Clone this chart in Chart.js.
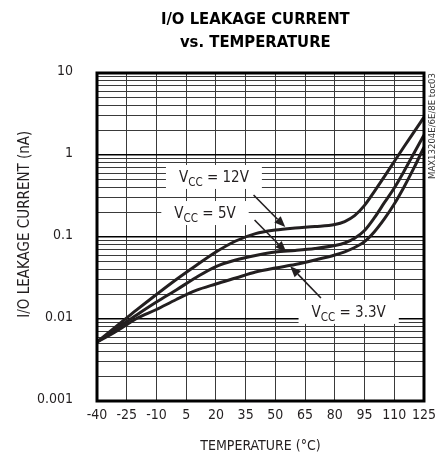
<!DOCTYPE html>
<html><head><meta charset="utf-8">
<script src="https://cdn.jsdelivr.net/npm/chart.js@4.4.0/dist/chart.umd.min.js"></script>
<style>html,body{margin:0;padding:0;background:#fff;}</style>
</head><body>
<canvas id="c" width="442" height="462"></canvas>
<script>
// ---- data ----
const temperatures = [-40, -30, -20, -10, 0, 10, 20, 30, 40, 50, 60, 70, 80, 85, 90, 95, 100, 105, 110, 115, 120, 125];
const leak12V = [0.00525, 0.00822, 0.0129, 0.0199, 0.0303, 0.0449, 0.0656, 0.0894, 0.110, 0.1217, 0.1288, 0.134,
                 0.142, 0.1545, 0.182, 0.243, 0.360, 0.545, 0.834, 1.27, 1.91, 2.90];
const leak5V  = [0.00525, 0.00766, 0.0112, 0.0161, 0.0226, 0.0321, 0.0436, 0.0524, 0.0595, 0.0656, 0.0685, 0.0724,
                 0.0787, 0.0845, 0.0965, 0.120, 0.172, 0.262, 0.396, 0.638, 1.06, 1.75];
const leak3V3 = [0.00525, 0.00714, 0.01014, 0.01306, 0.0173, 0.0223, 0.0267, 0.0316, 0.0374, 0.0419, 0.0462, 0.0524,
                 0.0603, 0.0660, 0.0745, 0.088, 0.116, 0.166, 0.252, 0.410, 0.70, 1.25];
const xTickValues = [-40, -25, -10, 5, 20, 35, 50, 65, 80, 95, 110, 125];
const yDecades = [0.001, 0.01, 0.1, 1, 10];
const yTickLabels = ['0.001', '0.01', '0.1', '1', '10'];
const seriesLabels = ['VCC = 12V', 'VCC = 5V', 'VCC = 3.3V'];
const titleLines = ['I/O LEAKAGE CURRENT', 'vs. TEMPERATURE'];
const xTitle = 'TEMPERATURE (°C)';
const yTitle = 'I/O LEAKAGE CURRENT (nA)';
const sideNote = 'MAX13204E/6E/8E toc03';

// ---- styling / annotation placement (data units) ----
const FONT = "'DejaVu Sans Condensed','Liberation Sans Narrow','Arial Narrow',sans-serif";
const INK = '#231f20';
const callouts = [
  { rest: ' = 12V', at: [19, 0.54],    from: [39, 0.325],   to: [55, 0.132] },
  { rest: ' = 5V',  at: [14.5, 0.196], from: [39.5, 0.161], to: [55.5, 0.0656] },
  { rest: ' = 3.3V',at: [87, 0.0122],  from: [73, 0.018],   to: [57.5, 0.044] }
];

function isDecade(v) { return yDecades.some(d => Math.abs(v / d - 1) < 1e-6); }

function measureCallout(ctx, c) {
  ctx.font = `15px ${FONT}`;
  const w1 = ctx.measureText('V').width;
  const w3 = ctx.measureText(c.rest).width;
  ctx.font = `11.5px ${FONT}`;
  const w2 = ctx.measureText('CC').width;
  return { w1, w2, w3, total: w1 + w2 + w3 };
}

const decor = {
  id: 'decor',
  beforeDatasetsDraw(chart) {
    const { ctx, scales: { x, y } } = chart;
    ctx.save();
    ctx.fillStyle = '#fff';
    callouts.forEach(c => {
      const m = measureCallout(ctx, c);
      const cx = x.getPixelForValue(c.at[0]), cy = y.getPixelForValue(c.at[1]);
      ctx.fillRect(cx - m.total / 2 - 13, cy - 12, m.total + 26, 24);
    });
    ctx.restore();
  },
  afterDatasetsDraw(chart) {
    const { ctx, scales: { x, y } } = chart;
    ctx.save();
    ctx.fillStyle = INK; ctx.strokeStyle = INK;
    callouts.forEach(c => {
      const m = measureCallout(ctx, c);
      const cx = x.getPixelForValue(c.at[0]), cy = y.getPixelForValue(c.at[1]);
      const x0 = cx - m.total / 2, base = cy + 5;
      ctx.textBaseline = 'alphabetic'; ctx.textAlign = 'left';
      ctx.font = `15px ${FONT}`; ctx.fillText('V', x0, base);
      ctx.font = `11.5px ${FONT}`; ctx.fillText('CC', x0 + m.w1, base + 4);
      ctx.font = `15px ${FONT}`; ctx.fillText(c.rest, x0 + m.w1 + m.w2, base);
      // arrow
      const fx = x.getPixelForValue(c.from[0]), fy = y.getPixelForValue(c.from[1]);
      const tx = x.getPixelForValue(c.to[0]), ty = y.getPixelForValue(c.to[1]);
      const ang = Math.atan2(ty - fy, tx - fx), L = 11, W = 4.5;
      const bx = tx - L * Math.cos(ang), by = ty - L * Math.sin(ang);
      ctx.lineWidth = 1.6;
      ctx.beginPath(); ctx.moveTo(fx, fy); ctx.lineTo(bx, by); ctx.stroke();
      ctx.beginPath();
      ctx.moveTo(tx, ty);
      ctx.lineTo(bx + W * Math.sin(ang), by - W * Math.cos(ang));
      ctx.lineTo(bx - W * Math.sin(ang), by + W * Math.cos(ang));
      ctx.closePath(); ctx.fill();
    });
    ctx.restore();
  },
  afterDraw(chart) {
    const { ctx, chartArea: a } = chart;
    ctx.save();
    ctx.strokeStyle = '#000'; ctx.lineWidth = 3;
    ctx.strokeRect(a.left, a.top, a.right - a.left, a.bottom - a.top);
    ctx.translate(a.right + 9, a.top + 53);
    ctx.rotate(-Math.PI / 2);
    ctx.font = `9.5px ${FONT}`; ctx.fillStyle = '#333';
    ctx.textAlign = 'center'; ctx.textBaseline = 'middle';
    ctx.fillText(sideNote, 0, 0);
    ctx.restore();
  }
};

const mkDataset = (label, data) => ({
  label, data, borderColor: INK, borderWidth: 3, pointRadius: 0,
  cubicInterpolationMode: 'monotone', fill: false
});

new Chart(document.getElementById('c'), {
  type: 'line',
  data: {
    labels: temperatures,
    datasets: [
      mkDataset(seriesLabels[0], temperatures.map((t, i) => ({ x: t, y: leak12V[i] }))),
      mkDataset(seriesLabels[1], temperatures.map((t, i) => ({ x: t, y: leak5V[i] }))),
      mkDataset(seriesLabels[2], temperatures.map((t, i) => ({ x: t, y: leak3V3[i] })))
    ]
  },
  options: {
    responsive: false, animation: false, devicePixelRatio: 1,
    layout: { padding: { left: 0, right: 15, top: 0, bottom: 0 } },
    plugins: {
      legend: { display: false }, tooltip: { enabled: false },
      title: {
        display: true, fullSize: false, text: titleLines.map(s => s + '  '),
        color: '#000', font: { family: FONT, size: 16.5, weight: 'bold', lineHeight: 1.394 },
        padding: { top: 8.5, bottom: 18.5 }
      }
    },
    scales: {
      x: {
        type: 'linear', min: -40, max: 125,
        afterBuildTicks: s => { s.ticks = xTickValues.map(v => ({ value: v })); },
        afterFit: s => { s.height = 61; },
        ticks: { autoSkip: false, maxRotation: 0, padding: 6, color: INK,
                 font: { family: FONT, size: 14 }, callback: v => String(v) },
        grid: { color: '#3a3a3a', lineWidth: 1, drawTicks: false },
        border: { display: false },
        title: { display: true, text: xTitle, color: INK,
                 font: { family: FONT, size: 14 }, padding: { top: 0, bottom: 7.5 } }
      },
      y: {
        type: 'logarithmic', min: 0.001, max: 10,
        afterBuildTicks: s => {
          const t = [];
          for (let i = 0; i < yDecades.length - 1; i++)
            for (let k = 1; k <= 9; k++) t.push({ value: yDecades[i] * k });
          t.push({ value: yDecades[yDecades.length - 1] });
          s.ticks = t;
        },
        afterFit: s => { s.width = 97; },
        ticks: {
          autoSkip: false, padding: 24, labelOffset: -2, color: INK,
          font: { family: FONT, size: 14 },
          callback: (v) => { const i = yDecades.findIndex(d => Math.abs(v / d - 1) < 1e-6); return i >= 0 ? yTickLabels[i] : ''; }
        },
        grid: {
          drawTicks: false,
          color: c => (c.tick && isDecade(c.tick.value)) ? '#000' : '#3a3a3a',
          lineWidth: c => (c.tick && isDecade(c.tick.value)) ? 1.4 : 1
        },
        border: { display: false },
        title: { display: true, text: '      ' + yTitle, color: INK,
                 font: { family: FONT, size: 15 }, padding: { top: 16, bottom: 0 } }
      }
    }
  },
  plugins: [decor]
});
</script>
</body></html>
